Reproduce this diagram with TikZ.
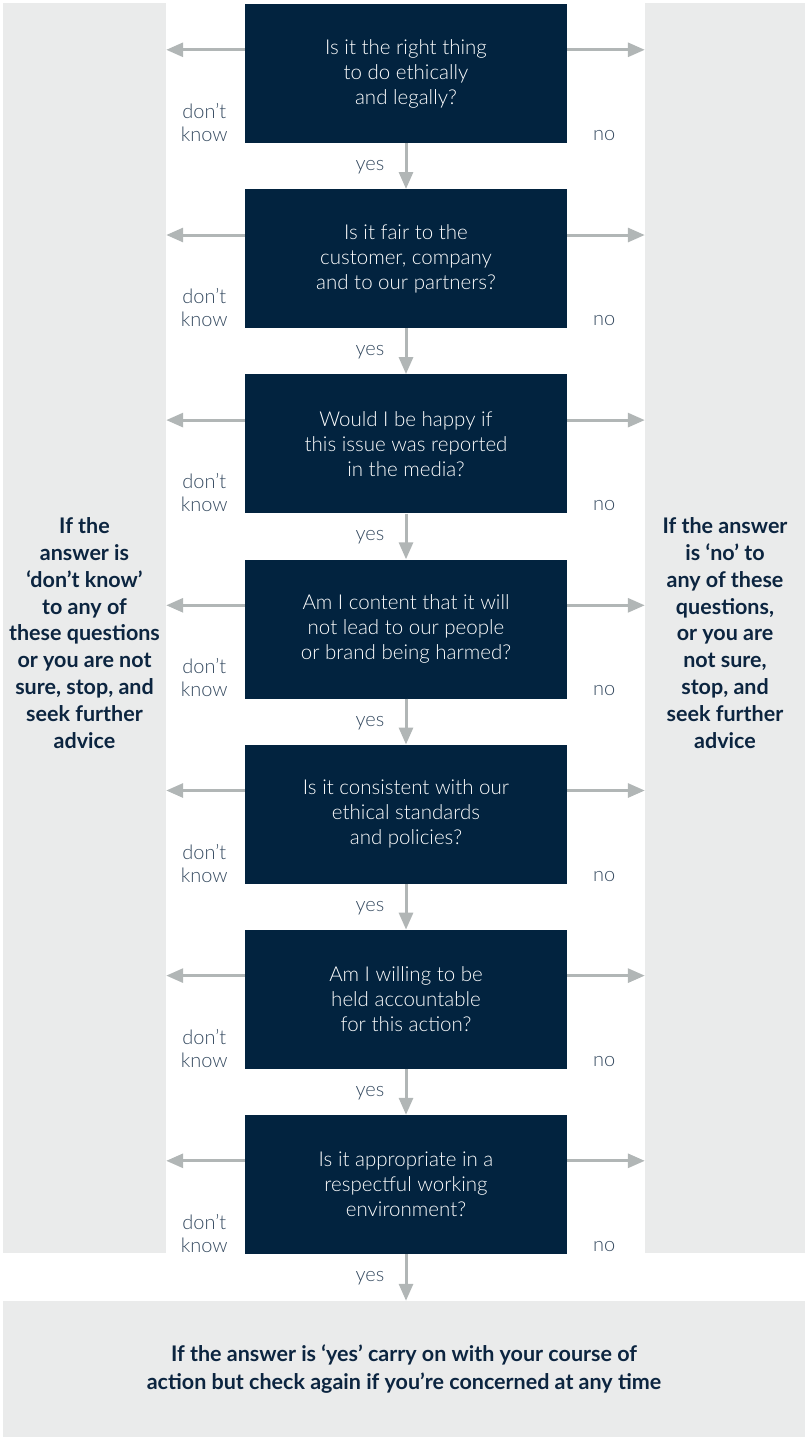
\documentclass[tikz,border=0pt]{standalone}
\usepackage{fontspec}
\setmainfont{Lato}[UprightFont=* Light, BoldFont=* Bold]
\usetikzlibrary{arrows.meta}
\definecolor{navy}{HTML}{02233F}
\definecolor{panelgrey}{HTML}{EAEBEB}
\definecolor{arrowgrey}{HTML}{B1B6B6}
\definecolor{labelcol}{HTML}{34495F}
\definecolor{paneltext}{HTML}{0C2540}
\begin{document}
\begin{tikzpicture}[x=1pt,y=-1pt,
  qbox/.style={fill=navy, minimum width=322pt, minimum height=139pt, inner sep=0pt, text=white, align=center, font=\fontsize{20.5}{25}\selectfont},
  panel/.style={fill=panelgrey, inner sep=0pt},
  ptext/.style={text=paneltext, align=center, font=\fontsize{21.5}{26.9}\selectfont\bfseries},
  lbl/.style={text=labelcol, align=center, font=\fontsize{20}{23}\selectfont},
  arr/.style={draw=arrowgrey, line width=3pt, -{Triangle[length=17pt,width=14pt]}}]
\useasboundingbox (0,0) rectangle (807,1440);
% side and bottom panels
\node[panel, minimum width=163pt, minimum height=1250pt] (L) at (84.5,628) {};
\node[panel, minimum width=160pt, minimum height=1250pt] (R) at (725,628) {};
\node[panel, minimum width=802pt, minimum height=136pt, text=paneltext, align=center,
      font=\fontsize{21.5}{28}\selectfont\bfseries] (B) at (404,1369)
  {If the answer is ‘yes’ carry on with your course of\\action but check again if you’re concerned at any time};
\node[ptext] (Lt) at (84.5,633) {If the\\answer is\\‘don’t know’\\to any of\\these questions\\or you are not\\sure, stop, and\\seek further\\advice};
\node[ptext] (Rt) at (725,633) {If the answer\\is ‘no’ to\\any of these\\questions,\\or you are\\not sure,\\stop, and\\seek further\\advice};
% question boxes
\node[qbox] (b1) at (406,73.5)   {Is it the right thing\\to do ethically\\and legally?};
\node[qbox] (b2) at (406,258.7)  {Is it fair to the\\customer, company\\and to our partners?};
\node[qbox] (b3) at (406,443.8)  {Would I be happy if\\this issue was reported\\in the media?};
\node[qbox] (b4) at (406,629)    {Am I content that it will\\not lead to our people\\or brand being harmed?};
\node[qbox] (b5) at (406,814.2)  {Is it consistent with our\\ethical standards\\and policies?};
\node[qbox] (b6) at (406,999.3)  {Am I willing to be\\held accountable\\for this action?};
\node[qbox] (b7) at (406,1184.5) {Is it appropriate in a\\respectful working\\environment?};
% side arrows and labels
\foreach \b in {b1,b2,b3,b4,b5,b6,b7}{
  \path (\b.north west) ++(0,46) coordinate (\b l);
  \path (\b.north east) ++(0,46) coordinate (\b r);
  \draw[arr] (\b l) -- (\b l -| L.east);
  \draw[arr] (\b r) -- (\b r -| R.west);
  \node[lbl] (\b dk) at ([xshift=-40.5pt,yshift=-49pt]\b.west) {don’t\\know};
  \node[lbl] (\b no) at ([xshift=37pt,yshift=-62pt]\b.east) {no};
}
% down arrows
\foreach \a/\c in {b1/b2,b2/b3,b3/b4,b4/b5,b5/b6,b6/b7,b7/B}{
  \draw[arr] (\a.south) -- (\a.south |- \c.north);
  \node[lbl] (\a yes) at ([xshift=-36pt,yshift=-24pt]\a.south) {yes};
}
\end{tikzpicture}
\end{document}
